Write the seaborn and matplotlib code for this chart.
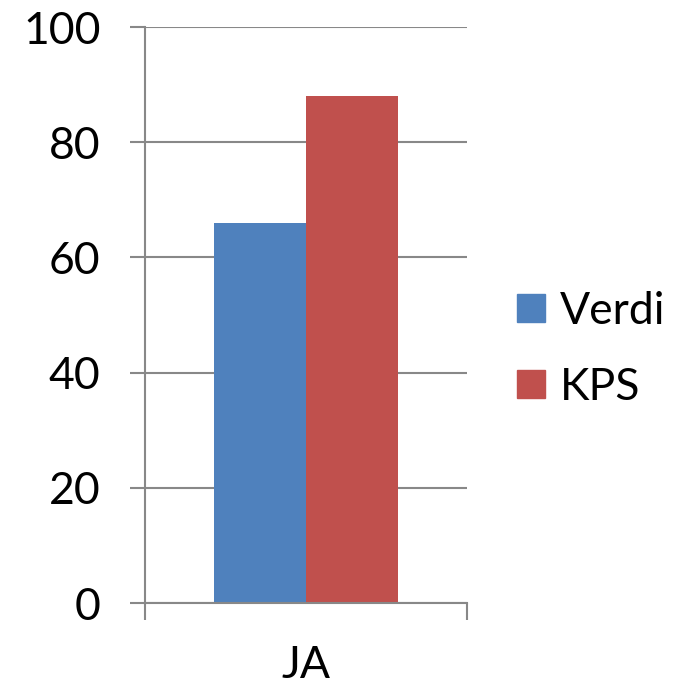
import pandas as pd
import seaborn as sns
import matplotlib.pyplot as plt
from matplotlib.lines import Line2D

# chart data
categories = ['JA', 'JA']
series = ['Verdi', 'KPS']
values = [66, 88]
colors = ['#4F81BD', '#C0504D']

df = pd.DataFrame({'cat': categories, 'series': series, 'value': values})

sns.set_style('white')
plt.rcParams['font.family'] = ['Lato', 'DejaVu Sans']
plt.rcParams['text.color'] = 'black'

fig = plt.figure(figsize=(6.8, 6.86), dpi=100)
ax = fig.add_axes([145 / 680, 83 / 686, 322 / 680, 576 / 686])

sns.barplot(data=df, x='cat', y='value', hue='series', palette=colors,
            width=0.571, saturation=1, linewidth=0, edgecolor='none',
            ax=ax, legend=False)

ax.set_xlim(-0.5, 0.5)
ax.set_ylim(0, 100)
ax.set_yticks([0, 20, 40, 60, 80, 100])
ax.set_xlabel('')
ax.set_ylabel('')

# gridlines and axes in Excel grey
ax.grid(axis='y', color='#888888', lw=1.5)
ax.set_axisbelow(True)
for s in ['top', 'right']:
    ax.spines[s].set_visible(False)
for s in ['left', 'bottom']:
    ax.spines[s].set_color('#888888')
    ax.spines[s].set_linewidth(1.5)

ax.tick_params(axis='y', left=True, length=11, width=1.5, color='#888888',
               labelsize=32, labelcolor='black', pad=21, direction='out')
ax.tick_params(axis='x', which='major', bottom=True, length=0,
               labelsize=32, labelcolor='black', pad=30)
ax.set_xticks([-0.5, 0.5], minor=True)
ax.tick_params(axis='x', which='minor', bottom=True, length=12, width=1.5,
               color='#888888', direction='out')

handles = [Line2D([], [], marker='s', ls='', markersize=20,
                  markerfacecolor=c, markeredgecolor=c) for c in colors]
fig.legend(handles, series, loc='center left', bbox_to_anchor=(0.76, 0.491),
           frameon=False, fontsize=32, handletextpad=0.32, labelspacing=0.79,
           handlelength=0.65, borderpad=0, borderaxespad=0, labelcolor='black')

fig.savefig('out.png', dpi=100)
